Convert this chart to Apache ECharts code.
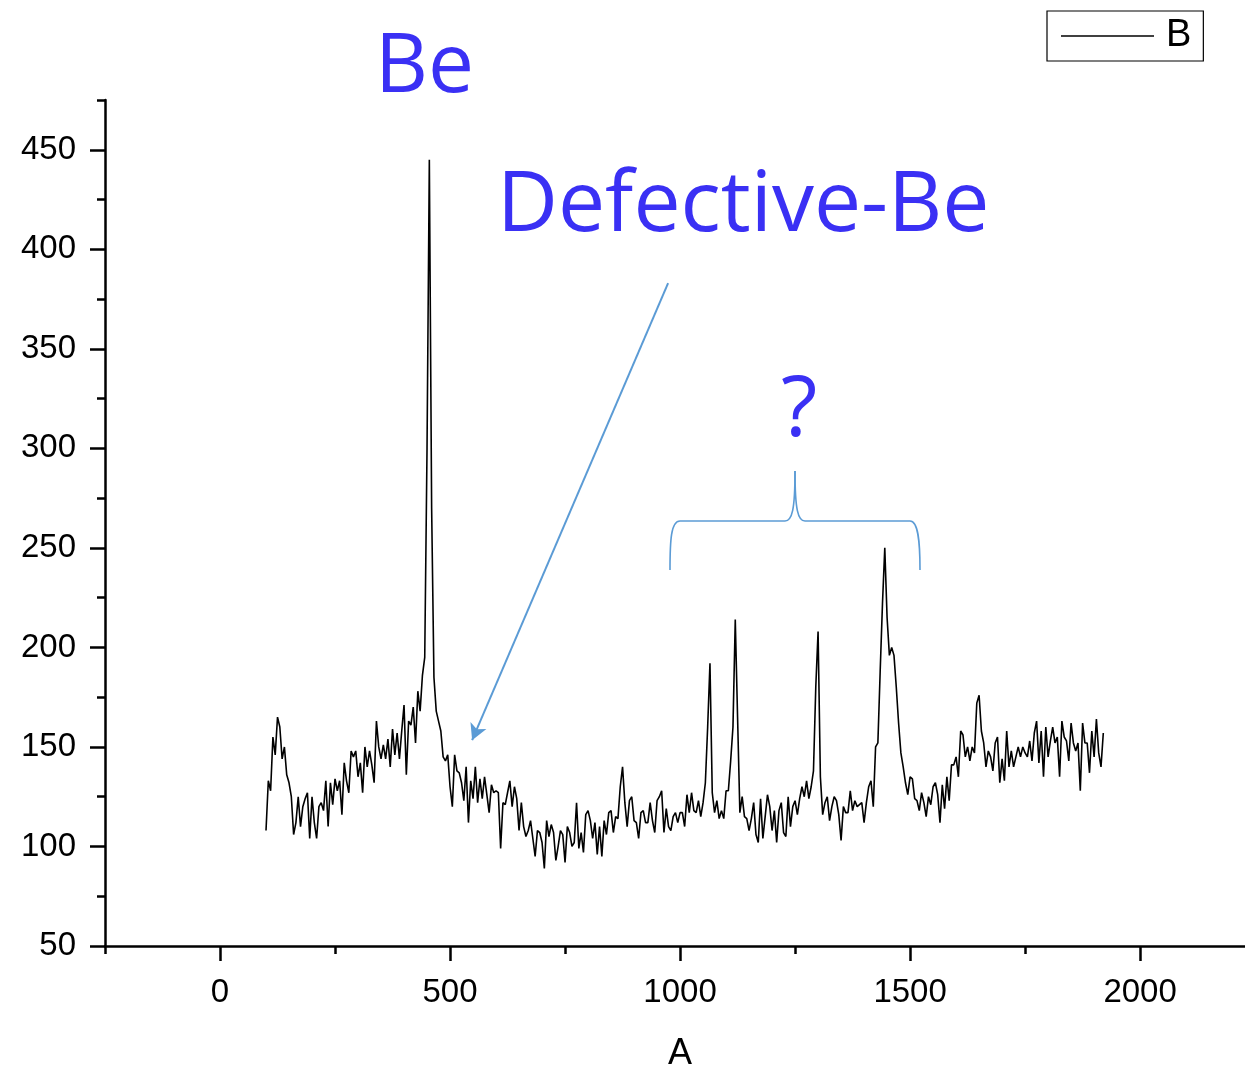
<!DOCTYPE html>
<html>
<head>
<meta charset="utf-8">
<script src="https://cdn.jsdelivr.net/npm/echarts@6/dist/echarts.min.js"></script>
<style>
html,body{margin:0;padding:0;background:#fff;}
#chart{width:1245px;height:1071px;}
</style>
</head>
<body>
<div id="chart"></div>
<script>
// Sampling grid of the spectrum (x = A)
const aStart = 100;
const aStep = 5;

// Intensity (B), x = 100 ... 495
const intensity100 = [
  108,133,128,155,146,165,160,144,150,136,132,125,106,112,125,110,120,124,127,104,
  125,112,104,120,122,118,133,110,132,121,134,128,133,116,142,133,127,148,145,148,
  135,142,127,150,140,148,141,132,163,150,144,151,144,154,140,159,146,157,144,158,
  171,136,163,161,170,152,178,168,186,195,300,445,270,185,168,163,158,145,143,146
];
// x = 500 ... 995
const intensity500 = [
  130,120,146,138,137,132,123,140,112,133,124,140,122,134,124,135,126,117,131,127,
  128,127,99,122,121,127,133,120,130,124,108,122,110,105,108,113,104,95,108,107,
  102,89,113,105,111,107,93,100,108,106,92,110,107,100,102,122,99,107,97,116,
  118,113,104,112,96,110,95,113,106,117,118,107,115,114,130,140,122,110,123,125,
  113,112,104,117,118,112,112,122,113,107,123,125,128,107,119,110,108,115,117,112
];
// x = 1000 ... 1495
const intensity1000 = [
  117,117,110,126,117,127,118,117,123,115,122,132,160,192,127,117,123,114,118,114,
  128,128,143,160,214,165,117,125,115,114,108,114,122,106,102,124,104,115,126,120,
  108,118,102,118,122,107,105,125,110,120,123,116,124,130,125,133,124,130,138,180,
  208,135,116,122,125,113,120,125,123,116,103,120,117,117,128,118,123,120,121,122,
  112,122,130,133,120,150,152,188,222,250,215,196,200,196,180,162,147,140,132,126
];
// x = 1500 ... 1920
const intensity1500 = [
  135,134,124,123,118,127,122,115,125,121,130,132,126,112,131,119,135,123,141,141,
  145,135,158,156,145,150,143,150,147,172,176,158,152,140,148,145,138,152,155,132,
  144,133,158,140,148,140,145,150,145,150,147,145,153,143,157,163,142,158,135,160,
  145,153,160,152,155,135,163,155,153,143,162,152,148,152,128,162,152,152,137,158,
  145,164,147,140,157
];

// Axis ticks / labels
const xMajorTicks = [0, 500, 1000, 1500, 2000];
const xMinorTicks = [-250, 250, 750, 1250, 1750];
const yMajorTicks = [50, 100, 150, 200, 250, 300, 350, 400, 450];
const yMinorTicks = [75, 125, 175, 225, 275, 325, 375, 425, 475];

const intensity = intensity100.concat(intensity500, intensity1000, intensity1500);
const seriesData = intensity.map((v, i) => [aStart + i * aStep, v]);

const FONT = '"Liberation Sans", Arial, sans-serif';
const ANNO_FONT = '"Open Sans", sans-serif';
const BLUE_TEXT = '#3a30f4';
const BLUE_LINE = '#5b9bd5';

const chart = echarts.init(document.getElementById('chart'), null, {renderer: 'canvas'});

const axisLineStyle = {color: '#000', width: 2.5};
const braceStyle = {fill: 'none', stroke: BLUE_LINE, lineWidth: 1.6};
const plain = v => String(v);

chart.setOption({
  animation: false,
  backgroundColor: '#fff',
  grid: {left: 105, right: 0, top: 100, bottom: 125, containLabel: false, outerBoundsMode: 'none'},
  legend: {
    show: true,
    data: [{name: 'B', icon: 'rect'}],
    left: 1047,
    top: 11,
    orient: 'horizontal',
    padding: [6, 12, 6, 14],
    borderColor: '#000',
    borderWidth: 1.2,
    itemWidth: 93,
    itemHeight: 1.6,
    itemStyle: {color: '#000'},
    textStyle: {fontSize: 38, color: '#000', fontFamily: FONT, padding: [0, 0, 0, 7]}
  },
  xAxis: [
    {
      type: 'value',
      position: 'bottom',
      min: -250,
      max: 2228,
      name: 'A',
      nameLocation: 'middle',
      nameGap: 90,
      nameTextStyle: {fontSize: 36, color: '#000', fontFamily: FONT, padding: [0, 0, 0, 10]},
      axisLine: {show: true, onZero: false, lineStyle: axisLineStyle},
      axisTick: {show: true, inside: false, length: 15, lineStyle: axisLineStyle, customValues: xMajorTicks},
      axisLabel: {show: true, fontSize: 33, color: '#000', fontFamily: FONT, margin: 30, customValues: xMajorTicks, formatter: plain},
      splitLine: {show: false}
    },
    {
      type: 'value',
      position: 'bottom',
      min: -250,
      max: 2228,
      axisLine: {show: false, onZero: false},
      axisTick: {show: true, inside: false, length: 8, lineStyle: axisLineStyle, customValues: xMinorTicks},
      axisLabel: {show: false},
      splitLine: {show: false}
    }
  ],
  yAxis: [
    {
      type: 'value',
      position: 'left',
      min: 50,
      max: 475,
      axisLine: {show: true, onZero: false, lineStyle: axisLineStyle},
      axisTick: {show: true, inside: false, length: 15, lineStyle: axisLineStyle, customValues: yMajorTicks},
      axisLabel: {show: true, fontSize: 33, color: '#000', fontFamily: FONT, margin: 29, customValues: yMajorTicks, formatter: plain},
      splitLine: {show: false}
    },
    {
      type: 'value',
      position: 'left',
      min: 50,
      max: 475,
      axisLine: {show: false, onZero: false},
      axisTick: {show: true, inside: false, length: 8, lineStyle: axisLineStyle, customValues: yMinorTicks},
      axisLabel: {show: false},
      splitLine: {show: false}
    }
  ],
  series: [
    {
      name: 'B',
      type: 'line',
      xAxisIndex: 0,
      yAxisIndex: 0,
      data: seriesData,
      showSymbol: false,
      symbol: 'none',
      color: '#000',
      lineStyle: {color: '#000', width: 1.6},
      markLine: {
        silent: true,
        symbol: ['none', 'arrow'],
        symbolSize: [13, 16],
        label: {show: false},
        lineStyle: {color: BLUE_LINE, width: 2, type: 'solid'},
        data: [[{coord: [974, 383]}, {coord: [548, 153.4]}]]
      }
    }
  ],
  graphic: [
    {type: 'text', left: 375, top: 28, style: {text: 'Be', fontSize: 82, fontFamily: ANNO_FONT, fill: BLUE_TEXT}},
    {type: 'text', left: 497, top: 165, style: {text: 'Defective-Be', fontSize: 84, fontFamily: ANNO_FONT, fill: BLUE_TEXT}},
    {type: 'text', left: 781, top: 370, style: {text: '?', fontSize: 84, fontFamily: ANNO_FONT, fill: BLUE_TEXT}},
    {type: 'bezierCurve', shape: {x1: 670, y1: 570, cpx1: 670, cpy1: 540, cpx2: 671, cpy2: 521, x2: 680, y2: 521}, style: braceStyle},
    {type: 'line', shape: {x1: 680, y1: 521, x2: 785, y2: 521}, style: braceStyle},
    {type: 'bezierCurve', shape: {x1: 785, y1: 521, cpx1: 792, cpy1: 521, cpx2: 795, cpy2: 510, x2: 795, y2: 471}, style: braceStyle},
    {type: 'bezierCurve', shape: {x1: 795, y1: 471, cpx1: 795, cpy1: 510, cpx2: 798, cpy2: 521, x2: 805, y2: 521}, style: braceStyle},
    {type: 'line', shape: {x1: 805, y1: 521, x2: 910, y2: 521}, style: braceStyle},
    {type: 'bezierCurve', shape: {x1: 910, y1: 521, cpx1: 918, cpy1: 521, cpx2: 920, cpy2: 540, x2: 920, y2: 570}, style: braceStyle}
  ]
});
</script>
</body>
</html>
